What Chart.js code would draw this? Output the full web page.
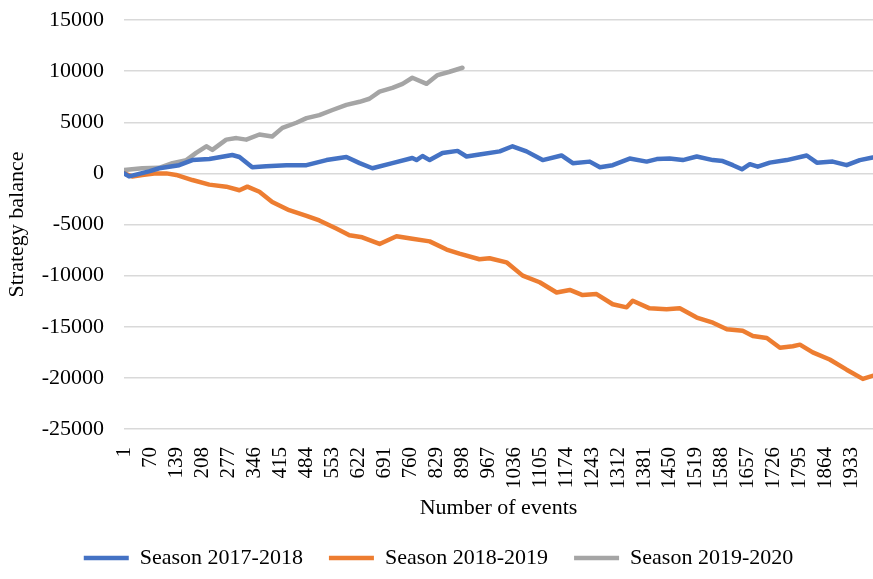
<!DOCTYPE html>
<html>
<head>
<meta charset="utf-8">
<script src="https://cdn.jsdelivr.net/npm/chart.js@4/dist/chart.umd.min.js"></script>
<style>
html,body{margin:0;padding:0;background:#fff;}
#wrap{width:873px;height:579px;position:relative;}
</style>
</head>
<body>
<div id="wrap"><canvas id="c"></canvas></div>
<script>
const seriesNames = ["Season 2017-2018", "Season 2018-2019", "Season 2019-2020"];
const xTickLabels = [1,70,139,208,277,346,415,484,553,622,691,760,829,898,967,1036,1105,1174,1243,1312,1381,1450,1519,1588,1657,1726,1795,1864,1933];
const yTickValues = [-25000,-20000,-15000,-10000,-5000,0,5000,10000,15000];

const eventsA = [1,14,67,94,147,182,227,288,307,341,378,432,485,538,591,626,660,713,766,777,793,812,846,886,910,944,998,1032,1069,1112,1162,1192,1237,1264,1298,1343,1388,1415,1449,1484,1521,1564,1590,1617,1641,1662,1683,1715,1760,1813,1840,1882,1919,1954,1988];
const balanceA = [0,-300,200,500,800,1300,1400,1800,1600,600,700,800,800,1300,1600,1000,500,1000,1500,1300,1700,1300,2000,2200,1650,1850,2150,2650,2150,1300,1750,1000,1150,600,800,1450,1150,1400,1450,1300,1650,1300,1200,800,400,900,650,1050,1300,1750,1050,1150,800,1300,1550];

const eventsB = [1,22,49,86,113,139,182,227,272,307,328,360,394,439,485,519,564,599,633,679,724,766,812,857,891,944,971,1016,1059,1104,1149,1184,1218,1255,1298,1335,1351,1396,1441,1476,1521,1564,1601,1643,1670,1707,1742,1776,1795,1829,1874,1919,1962,1988];
const balanceB = [0,-300,-150,0,0,-150,-650,-1100,-1300,-1650,-1300,-1800,-2800,-3600,-4150,-4600,-5400,-6050,-6250,-6900,-6150,-6400,-6650,-7450,-7850,-8400,-8300,-8700,-10000,-10650,-11650,-11400,-11900,-11800,-12800,-13100,-12450,-13200,-13300,-13200,-14100,-14600,-15250,-15400,-15900,-16100,-17050,-16900,-16750,-17500,-18200,-19200,-20100,-19800];

const eventsC = [1,49,94,129,166,192,219,235,272,299,325,360,394,421,458,485,519,554,591,626,652,679,713,740,766,804,833,865,899];
const balanceC = [330,500,550,1000,1300,2000,2650,2300,3300,3450,3300,3800,3600,4450,4950,5400,5700,6200,6700,7000,7300,8000,8360,8760,9350,8760,9610,9940,10330];

const colors = ["#4472C4", "#ED7D31", "#A5A5A5"];
const FONT = "'Liberation Serif', 'Times New Roman', serif";

function pts(xs, ys){ return xs.map((x,i)=>({x:x, y:ys[i]})); }

const datasets = [
  {label: seriesNames[0], data: pts(eventsA, balanceA), borderColor: colors[0], backgroundColor: colors[0]},
  {label: seriesNames[1], data: pts(eventsB, balanceB), borderColor: colors[1], backgroundColor: colors[1]},
  {label: seriesNames[2], data: pts(eventsC, balanceC), borderColor: colors[2], backgroundColor: colors[2]}
].map(d => Object.assign(d, {borderWidth: 4.5, pointRadius: 0, tension: 0, fill: false, borderJoinStyle: 'round', borderCapStyle: 'round'}));

new Chart(document.getElementById('c'), {
  type: 'line',
  data: {datasets},
  options: {
    responsive: true,
    maintainAspectRatio: false,
    animation: false,
    layout: {padding: {top: 2, right: 0, left: 4, bottom: 0}},
    plugins: {
      legend: {
        position: 'bottom',
        labels: {
          usePointStyle: true,
          pointStyle: 'line',
          pointStyleWidth: 45,
          color: '#000',
          font: {family: FONT, size: 22},
          padding: 26
        }
      },
      tooltip: {enabled: false}
    },
    scales: {
      x: {
        type: 'linear',
        min: 0.5,
        max: 1989,
        grid: {display: false},
        border: {display: false},
        afterBuildTicks: (axis) => { axis.ticks = xTickLabels.map(v => ({value: v})); },
        afterFit: (scale) => { scale.height = 92; scale.paddingLeft = 0; scale.paddingRight = 0; },
        ticks: {
          autoSkip: false,
          minRotation: 90,
          maxRotation: 90,
          color: '#000',
          font: {family: FONT, size: 21},
          padding: 10,
          callback: (v) => String(v)
        },
        title: {display: true, text: 'Number of events', color: '#000', font: {family: FONT, size: 22}, padding: {top: 9, bottom: 0}}
      },
      y: {
        min: -25000,
        max: 15000,
        afterBuildTicks: (axis) => { axis.ticks = yTickValues.map(v => ({value: v})); },
        afterFit: (scale) => { scale.width = 120; scale.paddingTop = 20; scale.paddingBottom = 0; },
        grid: {color: '#d9d9d9', lineWidth: 1.5, drawTicks: false},
        border: {display: false},
        ticks: {color: '#000', font: {family: FONT, size: 22}, padding: 20, callback: (v) => String(v)},
        title: {display: true, text: 'Strategy balance', color: '#000', font: {family: FONT, size: 22}, padding: {top: 0, bottom: 12}}
      }
    }
  }
});
</script>
</body>
</html>
